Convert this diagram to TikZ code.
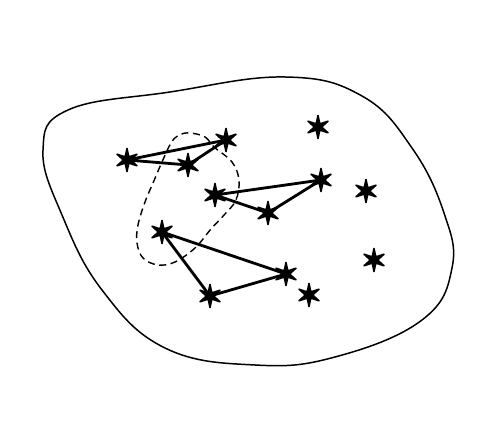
\documentclass[tikz,border=0pt]{standalone}
\usetikzlibrary{shapes.geometric}
\begin{document}
\begin{tikzpicture}[x=0.02cm,y=-0.02cm,
  spark/.style={star, star points=6, star point ratio=3.2, fill=black, draw=black, line width=0.9pt, line join=round, inner sep=0pt, minimum size=0.46cm},
  link/.style={line width=1.6pt}]
\useasboundingbox (0,0) rectangle (500,448);

% Outer region
\draw[line width=0.85pt] plot[smooth cycle, tension=0.7] coordinates {
  (285,77) (362,96) (412,148) (444,213) (452,268) (422,320) (335,357)
  (255,365) (165,348) (102,290) (62,215) (43,150) (68,110) (170,92)};

% Dashed group
\draw[line width=0.8pt, dash pattern=on 4pt off 2.6pt] plot[smooth cycle, tension=0.6] coordinates {
  (190,133) (205,137) (214,147) (232,162) (239,180) (236,200) (225,214)
  (211,229) (195,248) (175,262) (158,265) (143,258) (137,243) (138,225)
  (145,202) (153,183) (162,162) (171,143) (179,135)};

% Stars
\node[spark] (a) at (127,160) {};
\node[spark] (b) at (188,165) {};
\node[spark] (c) at (226,140) {};
\node[spark] (d) at (318,127) {};
\node[spark] (e) at (215,195) {};
\node[spark] (f) at (268,213) {};
\node[spark] (g) at (321,180) {};
\node[spark] (h) at (366,191) {};
\node[spark] (i) at (162,232) {};
\node[spark] (j) at (286,274) {};
\node[spark] (k) at (210,296) {};
\node[spark] (l) at (309,295) {};
\node[spark] (m) at (374,260) {};

% Links
\draw[link] (a.center) -- (c.center) -- (b.center) -- (a.center);
\draw[link] (e.center) -- (g.center) -- (f.center) -- (e.center);
\draw[link] (i.center) -- (j.center) -- (k.center) -- (i.center);
\end{tikzpicture}
\end{document}
